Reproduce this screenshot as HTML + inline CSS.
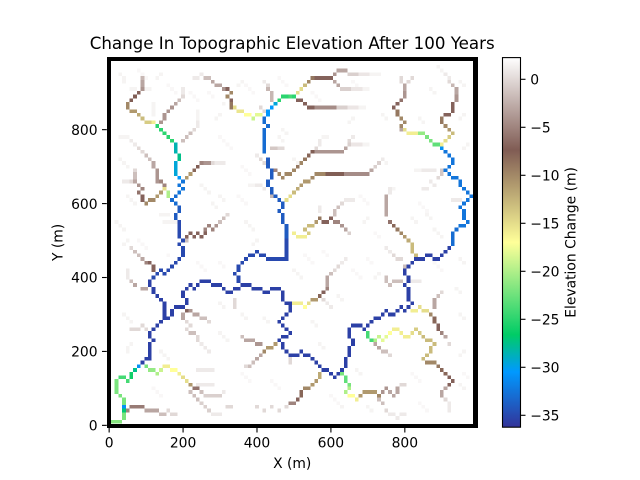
<!DOCTYPE html>
<html><head><meta charset="utf-8"><title>Change In Topographic Elevation After 100 Years</title>
<style>
html,body{margin:0;padding:0;background:#fff;width:640px;height:480px;overflow:hidden}
svg{display:block}
text{font-family:"DejaVu Sans","Liberation Sans",sans-serif;fill:#000}
</style></head>
<body>
<svg id="fig" width="640" height="480" viewBox="0 0 640 480" xmlns="http://www.w3.org/2000/svg">
<defs><linearGradient id="cbGrad" x1="0" y1="1" x2="0" y2="0"></linearGradient></defs>
<text x="292.2" y="49" font-size="16.67" text-anchor="middle">Change In Topographic Elevation After 100 Years</text>
<g id="cells" shape-rendering="crispEdges"></g>
<path fill="#000" fill-rule="evenodd" shape-rendering="crispEdges" d="M107 57H478V428H107ZM111 61V424H473V61Z"/>
<g id="xticks"></g>
<g id="yticks"></g>
<text x="292.2" y="468" font-size="13.89" text-anchor="middle">X (m)</text>
<text transform="translate(62.5,242.4) rotate(-90)" font-size="13.89" text-anchor="middle">Y (m)</text>
<rect id="cbBar" x="502.5" y="57.6" width="18" height="369.6" fill="url(#cbGrad)" stroke="#000" stroke-width="1.1"/>
<g id="cbticks"></g>
<text transform="translate(575.5,242.4) rotate(-90)" font-size="13.89" text-anchor="middle">Elevation Change (m)</text>
</svg>
<script>
// Axis and colour-scale values
const xTickValues = [0, 200, 400, 600, 800];
const yTickValues = [0, 200, 400, 600, 800];
const colorbarTickValues = [0, -5, -10, -15, -20, -25, -30, -35];
const changeMin = -36.24;
const changeMax = 2.26;
const cellSizeMetres = 10;

// Elevation change per channel: each entry is [change in m, col, row, col, row, ...]
const westHeadwater = [
 [-2,9,94],[-3,9,93,9,92],[-4,9,91],[-7,8,90],[-7.5,7,89,6,88],[-10,5,87,5,86],[-11,6,85,7,85],[-12,8,84],[-13,9,83],[-14,10,82,11,82],[-16,12,82],
 [-25,13,81,14,80,15,79,16,78,17,77],[-28.5,18,76,18,75,18,74],[-27.5,19,73,19,72],[-29.5,18,71,18,70,18,69,18,68],[-30.5,19,67],[-32.5,20,66,19,65,20,64,19,63],[-33,18,62,17,61,18,60]
];
const mainStem = [
 [-34,19,59,19,58,18,57,18,56],
 [-35,19,55,19,54,19,53,19,52,19,51,20,50,19,49,20,48,20,47,20,46,19,45,18,44,17,43,16,42,15,41,14,42,13,41,12,40],
 [-35.5,11,39,11,38,12,37,12,36,13,35,14,34,15,33,15,32,15,31,15,30,15,29,16,29,17,31,17,30,18,32,19,32,20,32,21,33,21,34,20,35,20,36,21,37,22,38,23,37,24,38,25,39,26,39,27,39,28,38,29,38,30,38,31,37,32,36,33,36,34,37,35,37,36,38,37,38,38,38,39,37,40,37,41,37,42,36,43,36,44,37,45,37,46,37,47,36,47,35,47,34,48,33,49,33,49,32,49,31,48,30,47,29,46,28,47,27,48,26,49,25,48,24,47,24,46,23,47,22,47,21,48,20,49,19,50,19,51,19,52,20,53,19,54,19,55,18,56,17,57,16,58,15,59,15,60,14,61,13,62,14,63,15,64,16,64,17,64,18,65,19,65,20,65,21,66,22,66,23,65,24,65,25,65,26,66,27,67,27,68,27,69,26,70,27,71,28,72,29,73,29,74,30,75,31,76,30,77,30,78,31,79,32,80,31,81,32,82,33,81,34,81,35,81,36,81,37,80,38,81,39,81,40,80,41,80,42,81,43,82,44,83,45,84,45,85,45,86,46,87,46,88,45,89,45,90,46,91,47,92,48],
 [-35.5,14,28,13,27,12,26,11,25,11,24,12,23,11,22,11,21,11,20,11,19,11,18,10,18,9,17],
 [-35,34,41,35,42,35,43,36,44,37,45,38,46,39,46,40,47,41,46,42,46,43,45,44,45,45,45,46,45,47,45,48,45,48,46,48,47,48,48,48,49,48,50,35,40,35,39],
 [-34,48,51,48,52,48,53,48,54,47,55,47,56,47,57,46,58,47,59,47,60,46,61,45,62,44,63,44,64,43,65,43,66,44,67,44,68,44,69,43,70,43,71,43,72],
 [-33,42,74,42,75,42,76,42,77,42,78,42,79,42,80,43,81,42,82,42,83],[-30.5,43,84,43,85,44,86],[-29.5,45,87],[-25,46,88,47,89,48,89,49,89,50,89]
];
const southOutlet = [
 [-31,8,16],[-27.5,7,15],[-26,6,14,6,13],[-24,4,13,3,13],[-22,2,12,2,11,2,10,2,9,3,8,4,7,4,6],[-31,4,5],[-27,4,4],[-22,4,3,4,2],[-21.5,1,1,2,1,3,1],[-24,5,12]
];
const eastHeadwater = [
 [-33,93,49,93,50,93,51,93,52,94,53],[-32.5,95,54,96,54,97,55,96,56,96,57,96,58,95,59,96,60,97,61,98,62,97,63,96,64,95,65,95,66,94,67,93,67,92,68,91,69,92,70,93,71,93,72,92,73,91,74],[-31,90,75],[-16,90,76],[-23,88,76,89,76],[-22,87,77,86,78],[-21,84,79,85,79],[-16,81,79,82,79,83,79],[-15,80,80],[-10,79,81,80,82,79,83],[-9,78,84,78,85],[-7,77,86,78,87],[-6,79,88],[-4,80,89,80,90],[-3,80,91,80,92],[0,81,93,82,94],[0,79,93,79,94],[-3,79,80]
];
const northeastBranch = [
 [-15,91,77],[-14,92,78],[-13,93,79],[-11,92,80],[-10,91,81],[-9,90,82,90,83],[-7,91,84,92,84,93,85,93,86,93,87],[-4,94,88,94,89],[-3,94,90,94,91],[-2,93,92],[0,92,93],[1,92,94,91,95],[1.6,90,96,89,97]
];
const northBranchUpper = [
 [-24,49,89],[-15,51,90],[-15,52,91],[-13,53,92],[-10,54,93],[-9,55,94],[-7,56,94,57,94,58,94,59,94,60,94],[-4,61,95],[-3,62,96,63,96,64,96],[-0.5,65,95,66,95,67,95],[0.8,68,95,69,95,70,95],[1.6,71,95,72,95,73,95],[-3,61,93,62,92],[-0.5,63,91,64,91,65,91],[0.8,66,91,67,91,68,91],[1.6,69,91,70,91],
 [-7,51,88,52,88,53,87,54,86,55,86],[-4.5,56,86,57,86,58,86,59,86,60,86,61,86],[-0.5,62,86,63,86,64,86],[0.8,65,86,66,86,67,86],[1.6,68,86,69,86]
];
const northBranchMiddle = [
 [-10,49,68,50,69],[-9,51,70],[-10,52,71],[-9,53,72],[-8,54,73],[-7.5,55,74],[-4,56,74,57,74,58,74,59,74,60,74,61,74,62,74,63,74],[-3,64,75],[-0.5,65,76],[0.8,66,76,67,76,68,76],[1.6,69,76,70,76],[0,65,77],[1,66,78],[0,56,75],[1,57,76,57,77],[1.6,58,78,59,78]
];
const northBranchLower = [
 [-15,49,62],[-13,50,63],[-12,51,64],[-11,52,65,53,66,54,66],[-10,55,67,56,68,57,68,58,68],[-7.5,59,68,60,68,61,68,62,68,63,68],[-4.5,64,68,65,68,66,68,67,68,68,68,69,68,70,68],[-3,71,69],[-0.5,72,70,73,71],[1,74,72]
];
const centreBranch = [
 [-16,50,52,51,51,52,51,53,51],[-14,54,52],[-13,53,53,54,54,55,54],[-11,56,55],[-9,57,56],[-7,58,55,59,55,60,56],[-5,61,55,62,55],[-4,63,54],[-3,64,53],[-0.5,65,52],[-1.5,61,57,61,58,62,59],[0,63,60],[1,64,61,65,61,66,61],[1,57,58,57,59]
];
const eastLowerBranch = [
 [-13,82,49,82,48,82,47,83,46],[-12,81,50],[-11,80,51],[-10,79,52],[-9,78,53],[-8,77,54],[-6,76,55],[-3,75,57,75,58,75,59,75,60,75,61,75,62],[1,76,63,76,64]
];
const upperWestTribs = [
 [-10,45,69,46,68,47,67,48,68,49,68],[-15,48,61],[-14,49,62],[-15,15,64],[-20,16,63,16,62],[-11,14,63,13,62],[-10,12,61,11,61,10,60],[-7,9,61,9,62],[-6,8,63],[-5,9,64],[-4,8,65],[-3,7,66],[-1.5,7,67,7,68],[0,7,69,6,66],[1,5,66,4,66],
 [-5,14,66,15,65],[-4,13,66,13,67,13,68,13,69],[-3,12,70,12,71],[-1.5,11,72,10,73],[0,9,74,8,75],[1,7,76,6,77],
 [-11,21,67,22,68],[-8,23,69],[-7.5,24,70],[-5,25,71],[-4,26,71,27,71],[0,28,71],[1,29,71,30,71,31,71],
 [-4,14,82,15,83,15,84,16,85,17,86],[-3,18,87],[-1.5,19,88],[0,20,89],[1,20,90,20,91],[-1.5,20,77],[-1.5,21,78],[-1.5,22,79],[0,23,80],[1,24,81,24,82],[1.6,24,83,24,84,24,85],
 [-9,33,86,33,87],[-7,33,88],[-10,32,89],[-10,33,90],[-7,32,91],[-4,31,91],[-3,30,92,29,92],[-3,28,93],[-1.5,27,94,26,94],[1,25,95,24,94,23,94],
 [-15,34,86],[-15.5,35,85,36,85],[-17,37,84,38,84],[-19,39,83],[-18,40,84,41,84],[0,42,85,41,86],[-2,44,88,44,89,44,90],[-2,43,91],[0,43,92],[1,42,93],
 [-7,21,51,22,52,23,51,24,52,25,51,26,52],[-5,26,53,27,54,28,53],[-4,29,54],[-1.5,30,55,31,56],[0,32,57],[-1.5,21,50],
 [1.6,18,55,17,55,16,55],[1.6,15,55],[0,42,71,41,72],[1,40,73],[-1,44,75,45,75],[0,46,75,47,75],[-2,44,63,44,62],[-5,45,69],[1.6,38,65,39,65],[1,40,65,41,65],[1,42,64]
];
const lowerWestTribs = [
 [-22,10,16],[-21,11,15,12,15],[-20,13,14],[-19,14,15],[-16,15,16,16,16],[-17,17,15,18,15],[-16,19,14],[-15,20,13,21,12],[-11,22,11],[-6,23,10,24,10],[-1.5,25,9],[-0.5,26,8,27,8,28,8,29,8,30,8],[1,31,9],[-1.5,22,9,23,8,24,7],[-0.5,25,6,26,5,27,4],[1,28,3,29,3,30,3],[1,24,15,25,15,26,15,27,15,28,15],[1,24,11,25,11,26,11,27,11,28,11],
 [-5,5,4],[-5.5,6,5,7,5,8,5,9,5],[-3,10,4,11,4,12,4,13,4],[-1.5,14,3,15,3],[0,16,4,17,3,18,3],
 [-3,20,30,20,29],[-7,21,31],[-4,22,31],[-3,23,30,24,30],[-1.5,25,29,26,29],[0,27,28,21,28],[0,22,27,21,26],[-1.5,22,25,23,25],[0,24,24,24,23],[1,25,22,26,21,27,20],
 [0,6,48],[-1.5,7,47,8,46],[-3,9,45],[-5,10,44],[-7,11,44,12,43,12,42],[1,5,42,5,41,5,40],[-1.5,6,39],[-3,7,38,9,37,10,37],
 [0,6,26,7,26,8,26],[0,9,27,10,26],
 [-1.5,36,24],[-3,37,23,38,23,39,23],[-4,40,22,41,22],[-10,42,20],[-11,43,21,44,21,45,22],[-3,41,19,40,18],[-1.5,39,17,38,16],[0,37,16],[0,34,34,34,33,34,32],
 [0,33,5,32,5],[0,40,5,42,4],[0,44,5,46,4,48,5]
];
const eastTribs = [
 [-16,50,33,51,33,52,33],[-17,53,32],[-15,54,33],[-11,55,34,56,34],[-8,57,35],[-7,58,36],[-5,59,37],[-3,59,38,59,39,59,40],[-1.5,60,41],[0,61,42,62,43],[1,63,44,64,45],[0,58,34],[1,59,33,60,32],
 [-24,70,25,70,24,71,23],[-20,72,23],[-19,73,24],[-18,74,23,75,24],[-17,76,25],[-16,77,26,78,26,79,25,80,24,81,24],[-15,82,25],[-14,83,26,84,25],[-13,85,24,86,23,87,23,88,22,87,21,87,20,86,19,85,18],[-10,86,17,87,17,88,17],[-9,89,16],[-8,90,15,91,14],[-7,92,13,93,12,92,11],[-3,91,10,90,9,90,8],[0,91,7],[1,92,6,92,5,92,4],[-3,72,22,73,21],[-1.5,74,20,75,20],[0,76,19],
 [-16,82,31,83,31],[-15,84,32,85,31,86,31],[-10,87,30],[-8,88,29,88,28],[-7,89,27,89,26],[-5,90,25],[-3,91,24],[0,92,22],[-3,88,34,88,33,88,32],[-1.5,89,35],[0,90,36],
 [-1.5,80,43],[0,79,45,78,45,77,46],[1,76,47,75,48],[-1.5,75,40,75,39,76,38],[-1.5,77,39,78,39,79,39],[1,82,39,83,39,84,39],
 [-22,63,14],[-23,64,13,64,12],[-22,65,11],[-20,65,10,64,9],[-17,65,8,66,8],[-16,67,7],[-11,68,8,69,9,70,9,71,9,72,9],[-10,73,8],[-4,74,9,75,10],[-3,76,9,77,8,78,10,78,9],[0,79,11,80,11],[-1.5,73,7,74,6],[0,75,4],[1,76,3,77,3,78,2,79,3,80,3],
 [-12,57,14,57,13],[-11,56,12,55,11],[-10,53,10,54,10],[-8,52,9,52,8],[-7,51,7],[-5,49,6,50,6],[0,49,18,49,17],
 [1,87,66,88,65],[0,89,67],[-1,90,68,90,69],[1,85,69,86,69,87,69,88,69],[1.6,83,69,84,69],[1,85,64,86,64],[1.6,77,64,76,63],[1,93,61,94,61,95,61]
];
const faintHollows = [
 [1.6,3,95,4,94,4,93],[1.6,6,91,7,91,10,91,11,91],[1.6,13,94,14,95],[1.6,12,87,12,86,12,85,12,84],[1.6,3,78,4,78,5,78],[1.6,3,72,4,71,5,70],[1.6,5,62,6,61,7,60],[1.6,2,55,3,54,4,53],[1.6,4,49,5,50],
 [1.6,31,87,30,84,29,83],[1.6,35,92,36,93],[1.6,25,65,26,64,27,63],[1.6,28,60,29,59],[1.6,37,55,38,54,39,53],[1.6,40,50,39,49],[1.6,16,57,15,57,14,57],[1.6,30,62,31,61],
 [1.6,47,80,48,79,46,78,47,77],[1.6,50,72,51,71],[1.6,66,83,65,82],[1.6,74,84,75,83],[1.6,84,83,85,82],[1.6,88,90,87,91],[1.6,95,93,96,92],[1.6,96,84,95,83],[1.6,97,76,96,75],[1.6,74,72,75,71],[1.6,70,56,69,55],[1.6,82,56,83,55],[1.6,86,57,87,56],[1.6,88,53,89,52,90,51],
 [1.6,4,30,5,29,6,28],[1.6,6,22,5,21,5,20],[1.6,14,20,15,19,16,18],[1.6,30,33,31,32],[1.6,30,25,31,24,32,23],[1.6,36,30,37,29],[1.6,42,29,43,28],[1.6,52,40,51,41,50,42],[1.6,55,28,56,27],[1.6,57,22,58,21],[1.6,62,35,63,34],[1.6,72,40,73,41],[1.6,67,15,68,14],[1.6,62,6,63,5],[1.6,70,5,71,4],[1.6,95,30,96,29],[1.6,96,20,95,19],[1.6,95,11,96,10],[1.6,95,45,96,44],[1.6,94,37,95,36],
 [1.8,8,96,9,95,10,94,16,92,17,91,18,90,22,90,23,89,24,88,27,90,28,89],[1.8,37,92,38,91,39,90,46,94,47,93,48,92,55,90,56,89,57,88,66,93,67,92],[1.8,30,78,31,77,32,76,33,75,36,70,37,69,38,68,35,62,36,61,37,60],[1.8,8,50,9,49,10,48,16,46,24,44,25,43,26,42,30,44,31,43],[1.8,53,46,54,45,55,44,58,47,59,46,66,42,67,41,68,40,70,45,71,44],[1.8,68,62,69,61,70,60,72,52,73,51,84,60,85,59,86,58,88,44,89,43,90,42],[1.8,12,10,13,9,14,8,36,14,37,13,38,12,44,12,45,11,46,10,60,8,61,7,62,6],[1.8,82,14,83,13,84,12,96,14,97,13,84,6,85,5,86,4]
];
const allChannels = [faintHollows, upperWestTribs, lowerWestTribs, eastTribs, westHeadwater, mainStem, southOutlet, eastHeadwater, northeastBranch, northBranchUpper, northBranchMiddle, northBranchLower, centreBranch, eastLowerBranch];

// Colormap nodes for the "terrain" map: position and RGB
const cmapPos = [0, 0.15, 0.25, 0.5, 0.75, 1];
const cmapR = [0.2, 0, 0, 1, 0.5, 1];
const cmapG = [0.2, 0.6, 0.8, 1, 0.36, 1];
const cmapB = [0.6, 1, 0.4, 0.6, 0.33, 1];

// Axis functions
const pxPerMetre = 0.3696;
const originX = 109.15;
const originY = 425.35;
function xScale(m){ return originX + m * pxPerMetre; }
function yScale(m){ return originY - m * pxPerMetre; }
function cbScale(v){ return 427.2 - (v - changeMin) / (changeMax - changeMin) * 369.6; }
function cmapColor(t){
  t = Math.max(0, Math.min(1, t));
  let i = 0;
  while (i < cmapPos.length - 2 && t > cmapPos[i + 1]) i++;
  const f = (t - cmapPos[i]) / (cmapPos[i + 1] - cmapPos[i]);
  const ch = a => Math.round(255 * (a[i] + (a[i + 1] - a[i]) * f));
  return 'rgb(' + ch(cmapR) + ',' + ch(cmapG) + ',' + ch(cmapB) + ')';
}
function changeColor(v){ return cmapColor((v - changeMin) / (changeMax - changeMin)); }

const NS = 'http://www.w3.org/2000/svg';
const cellsG = document.getElementById('cells');
const half = cellSizeMetres / 2;
allChannels.forEach(function(channel){
  channel.forEach(function(seg){
    const z = seg[0];
    for (let k = 1; k + 1 < seg.length; k += 2) {
      const xm = seg[k] * cellSizeMetres;
      const ym = seg[k + 1] * cellSizeMetres;
      const x0 = xScale(xm - half), x1 = xScale(xm + half);
      const y0 = yScale(ym + half), y1 = yScale(ym - half);
      const r = document.createElementNS(NS, 'rect');
      
      
      r.setAttribute('x', x0.toFixed(2));
      r.setAttribute('y', y0.toFixed(2));
      r.setAttribute('width', (x1 - x0).toFixed(2));
      r.setAttribute('height', (y1 - y0).toFixed(2));
      r.setAttribute('fill', changeColor(z));
      cellsG.appendChild(r);
    }
  });
});

function addLine(parent, x1, y1, x2, y2){
  const l = document.createElementNS(NS, 'line');
  
  
  l.setAttribute('x1', x1); l.setAttribute('y1', y1);
  l.setAttribute('x2', x2); l.setAttribute('y2', y2);
  l.setAttribute('stroke', '#000');
  l.setAttribute('stroke-width', '1.1');
  parent.appendChild(l);
}
function addText(parent, x, y, str, anchor){
  const t = document.createElementNS(NS, 'text');
  
  
  t.setAttribute('x', x); t.setAttribute('y', y);
  t.setAttribute('font-size', '13.89');
  t.setAttribute('text-anchor', anchor);
  t.textContent = str;
  parent.appendChild(t);
}
const xG = document.getElementById('xticks');
xTickValues.forEach(function(v){
  const x = xScale(v);
  addLine(xG, x, 427.7, x, 432.5);
  addText(xG, x, 447.5, String(v), 'middle');
});
const yG = document.getElementById('yticks');
yTickValues.forEach(function(v){
  const y = yScale(v);
  addLine(yG, 106.8, y, 102, y);
  addText(yG, 97.6, y + 5.2, String(v), 'end');
});
const cG = document.getElementById('cbticks');
colorbarTickValues.forEach(function(v){
  const y = cbScale(v);
  addLine(cG, 521, y, 525.5, y);
  addText(cG, 530.2, y + 5.2, String(v).replace('-', '\u2212'), 'start');
});
const grad = document.getElementById('cbGrad');
cmapPos.forEach(function(p){
  const s = document.createElementNS(NS, 'stop');
  s.setAttribute('offset', p);
  s.setAttribute('stop-color', cmapColor(p));
  grad.appendChild(s);
});
</script>
</body></html>
